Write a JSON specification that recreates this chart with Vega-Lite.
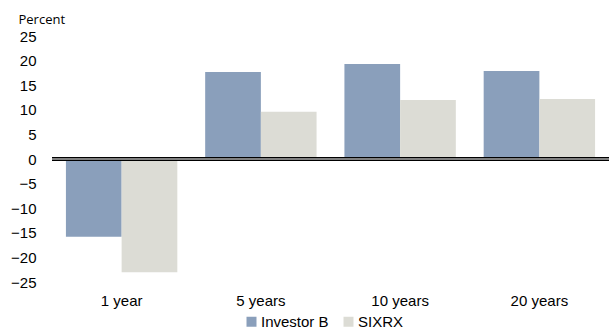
{
  "$schema": "https://vega.github.io/schema/vega-lite/v6.json",
  "autosize": "none",
  "width": 557,
  "height": 246,
  "padding": {"left": 52, "top": 36, "right": 0, "bottom": 49},
  "background": "white",
  "config": {"view": {"stroke": null}, "font": "Liberation Sans"},
  "data": {"values": [
    {"period": "1 year", "series": "Investor B", "value": -15.8},
    {"period": "1 year", "series": "SIXRX", "value": -23.0},
    {"period": "5 years", "series": "Investor B", "value": 17.7},
    {"period": "5 years", "series": "SIXRX", "value": 9.6},
    {"period": "10 years", "series": "Investor B", "value": 19.3},
    {"period": "10 years", "series": "SIXRX", "value": 12.0},
    {"period": "20 years", "series": "Investor B", "value": 17.9},
    {"period": "20 years", "series": "SIXRX", "value": 12.2}
  ]},
  "layer": [
    {
      "mark": {"type": "bar"},
      "encoding": {
        "x": {"field": "period", "type": "nominal", "sort": ["1 year", "5 years", "10 years", "20 years"],
          "scale": {"paddingInner": 0.2, "paddingOuter": 0.1},
          "axis": {"title": null, "labelAngle": 0, "labelFontSize": 15, "labelColor": "#000", "ticks": false, "domain": false, "labelPadding": 11, "labelOverlap": false}},
        "xOffset": {"field": "series", "type": "nominal", "scale": {"paddingInner": 0}},
        "y": {"field": "value", "type": "quantitative", "scale": {"domain": [-25, 25], "nice": false},
          "axis": {"values": [-25, -20, -15, -10, -5, 0, 5, 10, 15, 20, 25], "tickCount": 11, "grid": false, "ticks": false, "domain": false,
            "labelFontSize": 15, "labelColor": "#000", "labelPadding": 16, "labelOverlap": false,
            "title": "Percent", "titleAngle": 0, "titleAlign": "left", "titleBaseline": "bottom", "titleX": -34, "titleY": -10,
            "titleFontSize": 13, "titleFontWeight": "normal", "titleFont": "Open Sans", "titleColor": "#000"}},
        "color": {"field": "series", "type": "nominal",
          "scale": {"domain": ["Investor B", "SIXRX"], "range": ["#8A9FBB", "#DCDCD5"]},
          "legend": {"title": null, "orient": "none", "direction": "horizontal", "legendX": 192, "legendY": 278,
            "symbolType": "square", "symbolSize": 100, "symbolOpacity": 1, "labelFontSize": 15, "labelColor": "#000", "columnPadding": 12, "labelOffset": 2}}
      }
    },
    {
      "data": {"values": [{"v": 0}]},
      "mark": {"type": "rule", "color": "#000", "strokeWidth": 4},
      "encoding": {"y": {"datum": 0, "type": "quantitative"}}
    },
    {
      "data": {"values": [{"v": 0}]},
      "mark": {"type": "rule", "color": "#fff", "strokeWidth": 1.2},
      "encoding": {"y": {"datum": 0, "type": "quantitative"}}
    }
  ]
}
